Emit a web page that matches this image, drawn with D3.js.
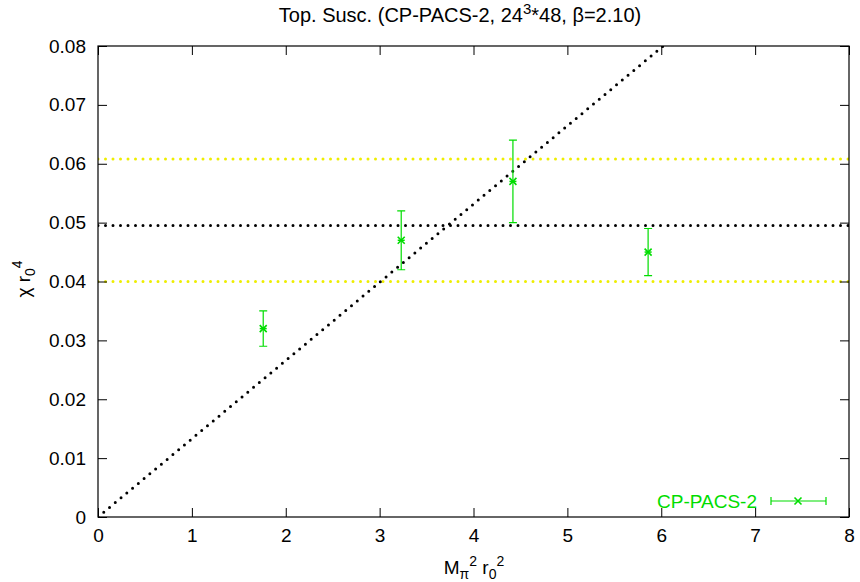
<!DOCTYPE html>
<html>
<head>
<meta charset="utf-8">
<script src="https://cdn.jsdelivr.net/npm/d3@7"></script>
<style>
  body { margin: 0; background: #fff; }
  svg text { font-family: "Liberation Sans", Arial, sans-serif; }
</style>
</head>
<body>
<div id="chart"></div>
<script>
// data
var mpiR0Sq = [1.76, 3.23, 4.42, 5.86];
var chiR0 = [0.032, 0.047, 0.057, 0.045];
var chiErr = [0.003, 0.005, 0.007, 0.004];

// fit lines
var diagLine = [[0, 0], [6.02, 0.08]];
var plateau = 0.0495;
var plateauBand = [0.040, 0.0608];

var xTicks = [0, 1, 2, 3, 4, 5, 6, 7, 8];
var yTicks = [0, 0.01, 0.02, 0.03, 0.04, 0.05, 0.06, 0.07, 0.08];

var green = "#00dd00";
var yellow = "#eeee00";

var svg = d3.select("#chart").append("svg")
    .attr("width", 860)
    .attr("height", 582);

var pLeft = 98, pRight = 849, pTop = 46, pBottom = 517;

var x = d3.scaleLinear().domain([0, 8]).range([pLeft, pRight]);
var y = d3.scaleLinear().domain([0, 0.08]).range([pBottom, pTop]);

// clip for lines
svg.append("clipPath").attr("id", "clip")
    .append("rect")
    .attr("x", pLeft).attr("y", pTop)
    .attr("width", pRight - pLeft).attr("height", pBottom - pTop);

var dotted = function(sel, color) {
    return sel.attr("fill", "none")
        .attr("stroke", color)
        .attr("stroke-width", 3)
        .attr("stroke-linecap", "round")
        .attr("stroke-dasharray", "0,7.5");
};

var line = d3.line().x(function(d) { return x(d[0]); }).y(function(d) { return y(d[1]); });

var lines = svg.append("g").attr("clip-path", "url(#clip)");

plateauBand.forEach(function(v) {
    dotted(lines.append("path").attr("d", line([[0, v], [8, v]])), yellow);
});
dotted(lines.append("path").attr("d", line([[0, plateau], [8, plateau]])), "#000");
dotted(lines.append("path").attr("d", line(diagLine)), "#000");

// axes: inward ticks on all sides
var tickLen = 9;
var fontSize = "19px";
var axisBottom = d3.axisBottom(x).tickValues(xTicks).tickSize(-tickLen).tickPadding(12);
var axisTop = d3.axisTop(x).tickValues(xTicks).tickSize(-tickLen).tickFormat("");
var axisLeft = d3.axisLeft(y).tickValues(yTicks).tickSize(-tickLen).tickPadding(12)
    .tickFormat(function(d) { return d === 0 ? "0" : d3.format(".2f")(d); });
var axisRight = d3.axisRight(y).tickValues(yTicks).tickSize(-tickLen).tickFormat("");

var styleAxis = function(g) {
    g.select(".domain").remove();
    g.selectAll("line").attr("stroke", "#000");
    g.selectAll("text").attr("fill", "#000").style("font-size", fontSize)
        .style("font-family", "'Liberation Sans', Arial, sans-serif");
};

svg.append("g").attr("transform", "translate(0," + pBottom + ")").call(axisBottom).call(styleAxis);
svg.append("g").attr("transform", "translate(0," + pTop + ")").call(axisTop).call(styleAxis);
svg.append("g").attr("transform", "translate(" + pLeft + ",0)").call(axisLeft).call(styleAxis);
svg.append("g").attr("transform", "translate(" + pRight + ",0)").call(axisRight).call(styleAxis);

svg.append("rect")
    .attr("x", pLeft).attr("y", pTop)
    .attr("width", pRight - pLeft).attr("height", pBottom - pTop)
    .attr("fill", "none").attr("stroke", "#000").attr("stroke-width", 1.2);

// error bars and points
var capW = 4;
var drawCross = function(g, cx, cy, s) {
    g.append("path")
        .attr("d", "M" + (cx - s) + "," + (cy - s) + "L" + (cx + s) + "," + (cy + s) +
            "M" + (cx - s) + "," + (cy + s) + "L" + (cx + s) + "," + (cy - s))
        .attr("stroke", green).attr("stroke-width", 1.6).attr("fill", "none");
};

var pts = svg.append("g");
mpiR0Sq.forEach(function(mx, i) {
    var px = x(mx);
    var lo = y(chiR0[i] - chiErr[i]);
    var hi = y(chiR0[i] + chiErr[i]);
    pts.append("path")
        .attr("d", "M" + px + "," + lo + "L" + px + "," + hi +
            "M" + (px - capW) + "," + lo + "L" + (px + capW) + "," + lo +
            "M" + (px - capW) + "," + hi + "L" + (px + capW) + "," + hi)
        .attr("stroke", green).attr("stroke-width", 1.2).attr("fill", "none");
    drawCross(pts, px, y(chiR0[i]), 3.5);
    pts.append("line")
        .attr("x1", px - 3.5).attr("x2", px + 3.5)
        .attr("y1", y(chiR0[i])).attr("y2", y(chiR0[i]))
        .attr("stroke", green).attr("stroke-width", 1.5);
});

// legend
var legY = 501;
svg.append("text")
    .attr("x", 757).attr("y", legY + 7)
    .attr("text-anchor", "end")
    .attr("fill", green)
    .style("font-size", fontSize)
    .text("CP-PACS-2");
var leg = svg.append("g");
leg.append("path")
    .attr("d", "M771," + legY + "L826," + legY +
        "M771," + (legY - capW) + "L771," + (legY + capW) +
        "M826," + (legY - capW) + "L826," + (legY + capW))
    .attr("stroke", green).attr("stroke-width", 1.2).attr("fill", "none");
drawCross(leg, 798, legY, 3.5);

// title
var title = svg.append("text")
    .attr("x", 460).attr("y", 22)
    .attr("text-anchor", "middle")
    .style("font-size", "20px");
title.append("tspan").text("Top. Susc. (CP-PACS-2, 24");
title.append("tspan").attr("dy", -8).style("font-size", "15px").text("3");
title.append("tspan").attr("dy", 8).text("*48, \u03b2=2.10)");

// x label
var xl = svg.append("text")
    .attr("x", 474).attr("y", 574)
    .attr("text-anchor", "middle")
    .style("font-size", fontSize);
xl.append("tspan").text("M");
xl.append("tspan").attr("dy", 5).style("font-size", "14px").text("\u03c0");
xl.append("tspan").attr("dy", -13).style("font-size", "14px").text("2");
xl.append("tspan").attr("dy", 8).text(" r");
xl.append("tspan").attr("dy", 5).style("font-size", "14px").text("0");
xl.append("tspan").attr("dy", -13).style("font-size", "14px").text("2");

// y label
var yl = svg.append("text")
    .attr("transform", "translate(30,279) rotate(-90)")
    .attr("text-anchor", "middle")
    .style("font-size", fontSize);
yl.append("tspan").text("\u03c7 r");
yl.append("tspan").attr("dy", 5).style("font-size", "14px").text("0");
yl.append("tspan").attr("dy", -13).style("font-size", "14px").text("4");
</script>
</body>
</html>
